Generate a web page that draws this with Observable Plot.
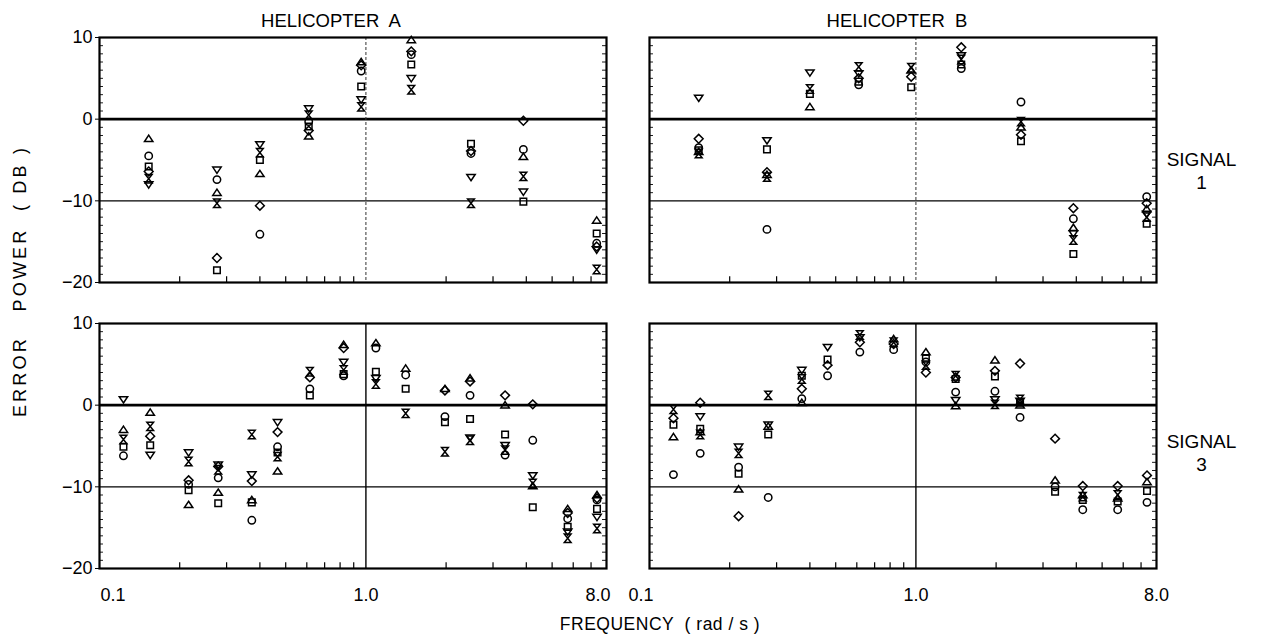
<!DOCTYPE html>
<html>
<head>
<meta charset="utf-8">
<script src="https://cdn.jsdelivr.net/npm/d3@7"></script>
<script src="https://cdn.jsdelivr.net/npm/@observablehq/plot@0.6"></script>
<style>
  html, body { margin: 0; padding: 0; background: #fff; }
  #chart { width: 1270px; height: 642px; }
</style>
</head>
<body>
<div id="chart"></div>
<script>
// ---------------- DATA ----------------
const helicopters = ["A", "B"];
const signals = ["1", "3"];
const seriesNames = ["circle", "square", "triangleUp", "triangleDown", "diamond", "hourglass"];

// frequencies (rad/s) of the measurement clusters
const freqSignal1 = [0.153, 0.276, 0.40, 0.61, 0.96, 1.48, 2.48, 3.9, 7.35];
const freqSignal3 = [0.123, 0.155, 0.216, 0.279, 0.373, 0.466, 0.616, 0.825, 1.09, 1.41, 1.98, 2.46, 3.33, 4.23, 5.72, 7.37];

// axis ticks
const xTickLabels = ["0.1", "1.0", "8.0"];
const xTickValues = [0.1, 1, 8];
const xMinorTicks = [0.2, 0.3, 0.4, 0.5, 0.6, 0.7, 0.8, 0.9, 2, 3, 4, 5, 6, 7];
const yTicks = [-20, -10, 0, 10];
const yMinorTicks = [-19, -18, -17, -16, -15, -14, -13, -12, -11, -9, -8, -7, -6, -5, -4, -3, -2, -1, 1, 2, 3, 4, 5, 6, 7, 8, 9];

// Helicopter A, signal 1 (error power, dB)
const A1_circle       = [-4.5, -7.4, -14.1, -0.3, 5.9, 7.9, -4.2, -3.7, -15.2];
const A1_square       = [-5.8, -18.5, -5.0, -0.9, 4.0, 6.7, -3.0, -10.1, -14.0];
const A1_triangleUp   = [-2.4, -9.0, -6.7, -2.1, 7.0, 9.7, null, -4.6, -12.4];
const A1_triangleDown = [-8.0, -6.2, -3.1, 1.3, 2.4, 5.0, -7.1, -8.9, -16.0];
const A1_diamond      = [-6.4, -17.0, -10.6, -1.4, 6.6, 8.3, -3.9, -0.2, -15.6];
const A1_hourglass    = [-7.3, -10.3, -4.1, 0.5, 1.5, 3.6, -10.3, -7.0, -18.4];

// Helicopter B, signal 1
const B1_circle       = [-3.5, -13.5, null, 4.2, null, 6.2, 2.1, -12.2, -9.5];
const B1_square       = [-3.8, -3.7, 3.1, 4.6, 3.9, 6.7, -2.7, -16.5, -12.8];
const B1_triangleUp   = [-4.0, -6.8, 1.5, null, 6.0, null, -1.0, -13.3, -11.0];
const B1_triangleDown = [2.6, -2.6, 5.7, 5.6, null, 7.8, null, -14.0, -11.6];
const B1_diamond      = [-2.4, -6.5, null, 5.0, 5.2, 8.8, -1.9, -10.9, -10.3];
const B1_hourglass    = [-4.2, -7.1, 3.7, 6.4, 6.3, 7.3, -0.3, -14.8, -12.0];

// Helicopter A, signal 3
const A3_circle       = [-6.2, null, -9.7, -8.9, -14.1, -5.1, 2.0, 3.6, 7.0, 3.7, -1.4, 1.2, -6.1, -4.3, -13.9, -11.6];
const A3_square       = [-5.1, -4.9, -10.4, -12.0, -11.9, -5.8, 1.2, 3.8, 4.1, 2.0, -2.1, -1.7, -3.6, -12.5, -14.9, -12.7];
const A3_triangleUp   = [-3.0, -0.9, -12.2, -10.7, -11.6, -8.1, null, 7.4, 7.6, 4.5, 2.0, 3.3, 0.0, -9.9, -12.7, -11.0];
const A3_triangleDown = [0.7, -6.1, -5.8, -7.3, -8.5, -2.1, null, 5.3, 3.3, null, null, -4.0, -4.9, -8.6, -15.5, -13.7];
const A3_diamond      = [null, -3.8, -9.2, -7.5, -9.3, -3.3, 3.4, 7.0, null, null, 1.8, 2.9, 1.2, 0.1, -13.2, -11.4];
const A3_hourglass    = [-4.2, -2.6, -6.9, -7.9, -3.6, -6.3, 4.1, 4.3, 2.6, -1.0, -5.7, -4.3, -5.5, -9.6, -16.3, -15.1];

// Helicopter B, signal 3
const B3_circle       = [-8.5, -5.9, -7.6, -11.3, 0.8, 3.6, 6.5, 6.8, 5.3, 1.6, 1.7, -1.5, -10.0, -12.8, -12.8, -11.9];
const B3_square       = [-2.4, -2.9, -8.4, -3.6, 3.6, 5.6, null, null, 5.7, 3.2, 3.5, 0.3, -10.6, -11.6, -11.8, -10.5];
const B3_triangleUp   = [-3.9, -3.3, -10.3, -2.6, 0.3, null, null, 8.1, 6.5, -0.1, 5.5, 0.0, -9.2, -11.0, -11.4, -9.4];
const B3_triangleDown = [null, -1.4, -5.1, -2.4, 4.3, 7.1, 8.3, null, null, 0.6, 0.7, 0.5, null, null, null, null];
const B3_diamond      = [-1.6, 0.3, -13.6, null, 2.0, 4.9, 7.7, 7.5, 4.0, 3.4, 4.2, 5.1, -4.1, -9.9, -9.9, -8.6];
const B3_hourglass    = [-0.5, -3.6, -5.9, 1.2, 3.2, null, 8.6, 7.7, 4.9, 3.6, 0.1, 0.7, null, -11.2, -11.0, null];

// ---------------- TABLE ----------------
const panels = [
  {heli: "A", signal: "1", freq: freqSignal1, values: {circle: A1_circle, square: A1_square, triangleUp: A1_triangleUp, triangleDown: A1_triangleDown, diamond: A1_diamond, hourglass: A1_hourglass}},
  {heli: "B", signal: "1", freq: freqSignal1, values: {circle: B1_circle, square: B1_square, triangleUp: B1_triangleUp, triangleDown: B1_triangleDown, diamond: B1_diamond, hourglass: B1_hourglass}},
  {heli: "A", signal: "3", freq: freqSignal3, values: {circle: A3_circle, square: A3_square, triangleUp: A3_triangleUp, triangleDown: A3_triangleDown, diamond: A3_diamond, hourglass: A3_hourglass}},
  {heli: "B", signal: "3", freq: freqSignal3, values: {circle: B3_circle, square: B3_square, triangleUp: B3_triangleUp, triangleDown: B3_triangleDown, diamond: B3_diamond, hourglass: B3_hourglass}}
];
const rows = [];
for (const p of panels) {
  for (const s of seriesNames) {
    p.values[s].forEach((v, i) => {
      if (v != null) rows.push({heli: p.heli, signal: p.signal, freq: p.freq[i], value: v, series: s});
    });
  }
}

// ---------------- SYMBOLS ----------------
const rad = (size) => Math.sqrt(size / Math.PI);
const symbolShapes = {
  circle: {draw(c, size) { const r = rad(size) * 0.88; c.moveTo(r, 0); c.arc(0, 0, r, 0, 2 * Math.PI); }},
  square: {draw(c, size) { const r = rad(size) * 0.78; c.rect(-r, -r, 2 * r, 2 * r); }},
  triangleUp: {draw(c, size) { const r = rad(size); c.moveTo(0, -r * 0.85); c.lineTo(r, r * 0.65); c.lineTo(-r, r * 0.65); c.closePath(); }},
  triangleDown: {draw(c, size) { const r = rad(size); c.moveTo(0, r * 0.85); c.lineTo(r, -r * 0.65); c.lineTo(-r, -r * 0.65); c.closePath(); }},
  diamond: {draw(c, size) { const r = rad(size) * 1.05; c.moveTo(0, -r); c.lineTo(r, 0); c.lineTo(0, r); c.lineTo(-r, 0); c.closePath(); }},
  hourglass: {draw(c, size) { const r = rad(size); const w = r * 0.8; c.moveTo(-w, -r); c.lineTo(w, -r); c.lineTo(-w, r); c.lineTo(w, r); c.closePath(); }}
};

// tick label table for the bottom axis
const tickLabelRows = [];
for (const h of helicopters) xTickValues.forEach((v, i) => tickLabelRows.push({heli: h, value: v, label: xTickLabels[i]}));

const fontFamily = "'Liberation Sans', Arial, Helvetica, sans-serif";

const dotMarks = seriesNames.map((s) =>
  Plot.dot(rows.filter((d) => d.series === s), {
    x: "freq", y: "value", fx: "heli", fy: "signal",
    symbol: symbolShapes[s], r: 4.2, stroke: "black", strokeWidth: 1.5, fill: "none"
  })
);

const tickText = (filter, anchor, dx) =>
  Plot.text(tickLabelRows.filter(filter), {
    x: "value", fx: "heli", fy: () => "3", text: "label", frameAnchor: "bottom",
    lineAnchor: "middle", dy: 27, dx, fontSize: 18, textAnchor: anchor
  });

const titleText = (h, dx) =>
  Plot.text([h], {fx: (d) => d, fy: () => "1", frameAnchor: "top", lineAnchor: "middle", dy: -16, dx,
    text: (d) => `HELICOPTER  ${d}`, fontSize: 18.5, letterSpacing: "0.8px"});

const signalText = (s, dy) =>
  Plot.text([s], {fy: (d) => d, fx: () => "B", frameAnchor: "right", dx: 45, dy,
    text: (d) => `SIGNAL\n${d}`, fontSize: 19, lineHeight: 1.2, textAnchor: "middle"});

const chart = Plot.plot({
  width: 1270,
  height: 642,
  marginLeft: 98,
  marginRight: 113,
  marginTop: 37,
  marginBottom: 73,
  facet: {marginTop: 0, marginRight: 0, marginBottom: 0, marginLeft: 0},
  style: {fontFamily, fontSize: "17px", background: "#fff", color: "black", overflow: "visible"},
  x: {type: "log", domain: [0.1, 8], axis: null},
  y: {domain: [-20, 10]},
  fx: {domain: helicopters, paddingInner: 0.078, paddingOuter: 0, axis: null},
  fy: {domain: signals, paddingInner: 0.143, paddingOuter: 0, axis: null},
  marks: [
    // reference lines
    Plot.ruleY([0], {stroke: "black", strokeWidth: 2.6}),
    Plot.ruleY([-10], {stroke: "black", strokeWidth: 1.2}),
    Plot.ruleX([{f: 1, s: "1"}], {x: "f", fy: "s", stroke: "#333", strokeWidth: 1, strokeDasharray: "3,2"}),
    Plot.ruleX([{f: 1, s: "3"}], {x: "f", fy: "s", stroke: "black", strokeWidth: 1.4}),
    // minor ticks
    Plot.ruleX(xMinorTicks, {x: (d) => d, y1: -20, y2: -19.3, stroke: "black", strokeWidth: 1.2}),
    Plot.ruleY(yMinorTicks, {y: (d) => d, x1: 0.1, x2: 0.1035, stroke: "black", strokeWidth: 0.9}),
    Plot.ruleY(yMinorTicks, {y: (d) => d, x1: 8 / 1.035, x2: 8, stroke: "black", strokeWidth: 0.9}),
    Plot.frame({stroke: "black", strokeWidth: 2.2}),
    // y axis on left panels
    Plot.axisY(yTicks, {anchor: "left", label: null, tickSize: 4, tickPadding: 3, fontSize: 18,
      tickFormat: (d) => (d < 0 ? "\u2212" + (-d) : String(d))}),
    // bottom tick labels
    tickText((d) => d.value === 1 || (d.heli === "B" && d.value === 8), "middle", 0),
    tickText((d) => d.heli === "A" && d.value === 0.1, "start", 1),
    tickText((d) => (d.heli === "A" && d.value === 8) || (d.heli === "B" && d.value === 0.1), "end", 4),
    // panel titles
    titleText("A", -22),
    titleText("B", -6),
    // row labels
    signalText("1", 10),
    signalText("3", 6),
    ...dotMarks
  ]
});

document.getElementById("chart").appendChild(chart);

// overall axis titles
const svg = d3.select(chart);
svg.append("text")
  .attr("transform", "translate(21,281) rotate(-90)")
  .attr("text-anchor", "middle")
  .attr("dominant-baseline", "middle")
  .attr("font-size", 18)
  .attr("letter-spacing", "3.2px")
  .attr("fill", "black")
  .style("white-space", "pre")
  .text("ERROR   POWER  ( DB )");
svg.append("text")
  .attr("x", 660)
  .attr("y", 625)
  .attr("text-anchor", "middle")
  .attr("dominant-baseline", "middle")
  .attr("font-size", 17.5)
  .attr("letter-spacing", "0.5px")
  .attr("fill", "black")
  .style("white-space", "pre")
  .text("FREQUENCY  ( rad / s )");
</script>
</body>
</html>
